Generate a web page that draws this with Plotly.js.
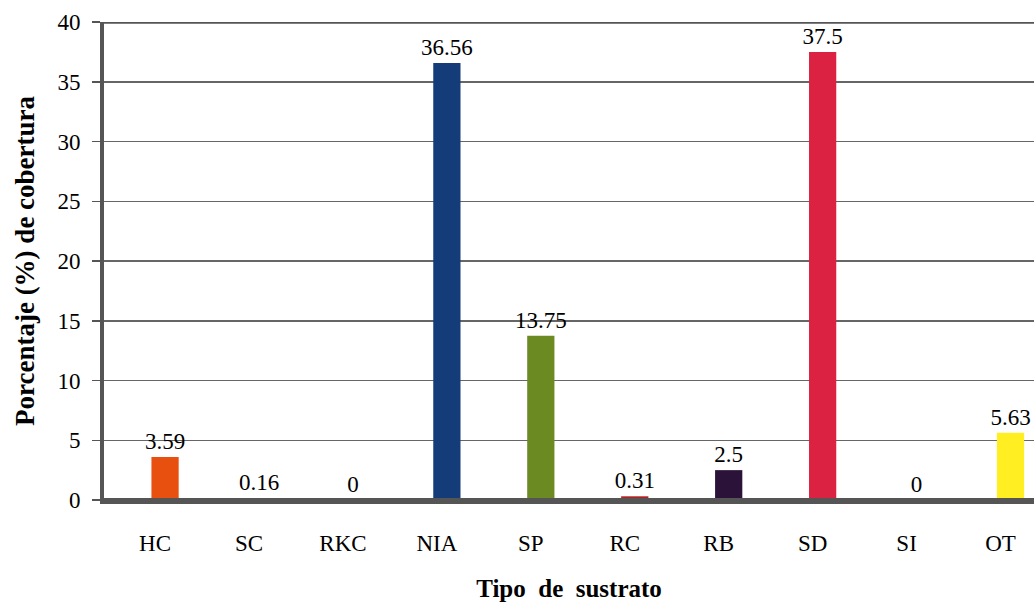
<!DOCTYPE html>
<html>
<head>
<meta charset="utf-8">
<script src="https://cdn.plot.ly/plotly-3.0.1.min.js"></script>
<style>html,body{margin:0;padding:0;background:#fff;}#chart{width:1034px;height:603px;}</style>
</head>
<body>
<div id="chart"></div>
<script>
const categories = ["HC", "SC", "RKC", "NIA", "SP", "RC", "RB", "SD", "SI", "OT"];
const values = [3.59, 0.16, 0, 36.56, 13.75, 0.31, 2.5, 37.5, 0, 5.63];
const valueLabels = ["3.59", "0.16", "0", "36.56", "13.75", "0.31", "2.5", "37.5", "0", "5.63"];
const barColors = ["#E8500F", "#C0262C", "#C0262C", "#143C78", "#6B8A22", "#B22222", "#2A1238", "#DC2242", "#DC2242", "#FFEE22"];
const yTicks = [0, 5, 10, 15, 20, 25, 30, 35, 40];

const serif = "Liberation Serif";

const trace = {
  type: "bar",
  x: categories,
  y: values,
  width: 0.29,
  marker: { color: barColors, line: { width: 0 } },
  text: valueLabels,
  textposition: "outside",
  constraintext: "none",
  cliponaxis: false,
  textfont: { family: serif, size: 23, color: "#000" },
  hoverinfo: "none"
};

const layout = {
  width: 1034,
  height: 603,
  font: { family: serif },
  margin: { l: 104, r: 0, t: 22, b: 103 },
  paper_bgcolor: "#fff",
  plot_bgcolor: "#fff",
  showlegend: false,
  bargap: 0.7,
  xaxis: {
    type: "category",
    range: [-0.65, 9.25],
    showgrid: false,
    zeroline: false,
    showline: true,
    linecolor: "#555",
    linewidth: 4,
    mirror: false,
    ticks: "",
    ticklabelshift: -10,
    ticklabelstandoff: 19,
    tickfont: { family: serif, size: 23, color: "#000" },
    title: { text: "<b>Tipo  de  sustrato</b>", font: { family: serif, size: 25, color: "#000" }, standoff: 26 }
  },
  yaxis: {
    range: [0, 40],
    tickvals: yTicks,
    ticktext: yTicks.map(String),
    showgrid: true,
    gridcolor: "#666",
    gridwidth: 1.5,
    zeroline: false,
    showline: true,
    linecolor: "#555",
    linewidth: 4,
    ticks: "outside",
    ticklen: 8,
    tickwidth: 1.5,
    tickcolor: "#555",
    ticklabelstandoff: 7,
    tickfont: { family: serif, size: 23, color: "#000" },
    title: { text: "<b>Porcentaje (%) de cobertura</b>", font: { family: serif, size: 27, color: "#000" }, standoff: 16 }
  },
  shapes: [
    { type: "line", xref: "paper", yref: "y", x0: 0, x1: 1, y0: 40, y1: 40, line: { color: "#555", width: 3.5 } },
    { type: "line", xref: "paper", yref: "y", x0: 0, x1: 1, y0: 0, y1: 0, line: { color: "#555", width: 4 } }
  ]
};

Plotly.newPlot("chart", [trace], layout, { displayModeBar: false, staticPlot: true });
</script>
</body>
</html>
